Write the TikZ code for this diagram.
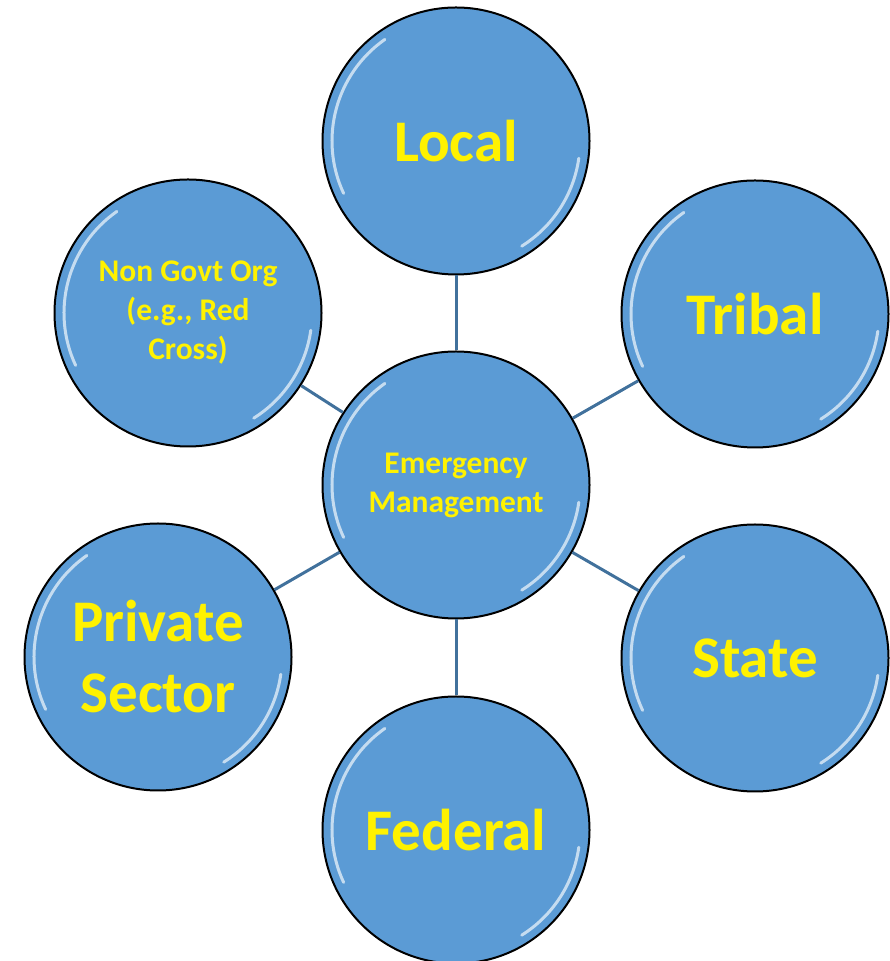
\documentclass[tikz,border=0pt]{standalone}
\usepackage{fontspec}
\setmainfont{Carlito}
\usetikzlibrary{positioning}
\definecolor{bubbleblue}{RGB}{91,155,213}
\definecolor{linkblue}{RGB}{65,113,156}

\begin{document}
\begin{tikzpicture}[
		x=1pt, y=1pt,
		bubble/.style = {draw=black, line width=2pt, fill=bubbleblue, circle, minimum size=267pt, inner sep=0pt, align=center, text=yellow},
		shine/.style = {draw=white, opacity=0.65, line width=3pt, line cap=round},
		big/.style = {font=\bfseries\fontsize{59}{71}\selectfont},
		small/.style = {font=\bfseries\fontsize{31.5}{39}\selectfont},
		link/.style = {draw=linkblue, line width=3pt}
		]
		\useasboundingbox (0,0) rectangle (889,961);
		% Circulos
		\node[bubble, small] (center) at (456,476) {Emergency\\Management};
		\node[bubble, big] (local) at (456,820) {Local};
		\node[bubble, big] (tribal) at (755,647) {Tribal};
		\node[bubble, big] (state) at (755,303) {State};
		\node[bubble, big] (federal) at (456,131) {Federal};
		\node[bubble, big] (private) at (158,304) {Private\\Sector};
		\node[bubble, small] (ngo) at (188,648) {Non Govt Org\\(e.g., Red\\Cross)};
		
		% Brillos
		\foreach \n in {center, local, tribal, state, federal, private, ngo} {
			\draw[shine] ([shift={(\n.center)}]205:124) arc[start angle=205, end angle=125, radius=124];
			\draw[shine] ([shift={(\n.center)}]-8:124) arc[start angle=-8, end angle=-58, radius=124];
		}
		
		% Lineas
		\foreach \n in {local, tribal, state, federal, private, ngo}
			\draw[link] (center) -- (\n);
	\end{tikzpicture}
\end{document}
